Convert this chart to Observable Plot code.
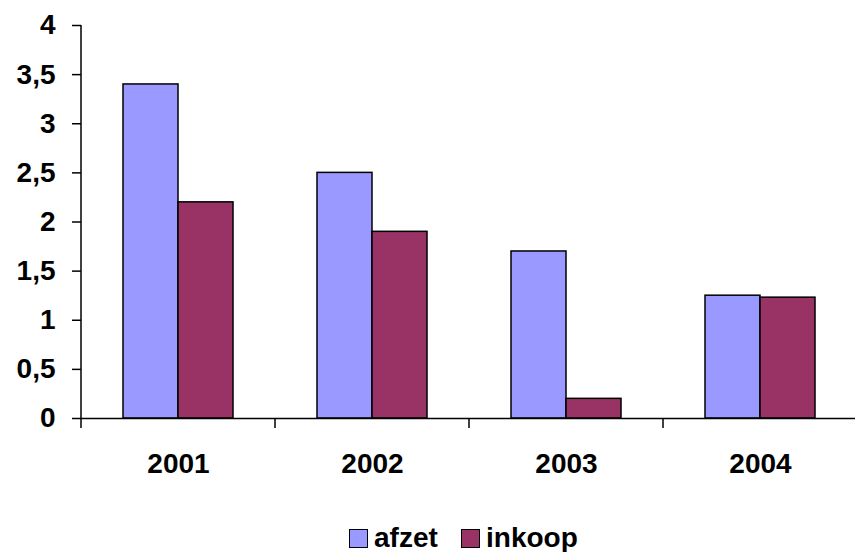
<!DOCTYPE html>
<html><head><meta charset="utf-8">
<script src="https://cdn.jsdelivr.net/npm/d3@7"></script>
<script src="https://cdn.jsdelivr.net/npm/@observablehq/plot@0.6"></script>
<style>
body{margin:0;background:#fff;font-family:"Liberation Sans",Arial,sans-serif;overflow:hidden;}
#legend{position:relative;height:42px;width:855px;}
.item{position:absolute;top:18px;display:flex;align-items:center;font-size:28px;font-weight:bold;color:#000;line-height:20px;}
.sw{width:17px;height:17px;border:1.5px solid #000;margin-right:6px;box-sizing:content-box;}
</style></head><body>
<div id="chart"></div>
<div id="legend"></div>
<script>
const years = ["2001", "2002", "2003", "2004"];
const series = ["afzet", "inkoop"];
const afzet = [3.4, 2.5, 1.7, 1.25];
const inkoop = [2.2, 1.9, 0.2, 1.23];
const colors = ["#9999FF", "#993366"];
const yTicks = [0, 0.5, 1, 1.5, 2, 2.5, 3, 3.5, 4];

const data = years.flatMap((y, i) => [
  {year: y, series: "afzet", value: afzet[i]},
  {year: y, series: "inkoop", value: inkoop[i]}
]);

const font = "'Liberation Sans', Arial, sans-serif";
const plot = Plot.plot({
  width: 855, height: 510,
  marginLeft: 79, marginRight: 0, marginTop: 25, marginBottom: 92,
  style: {fontFamily: font, fontWeight: "bold", color: "#000", background: "#fff"},
  fx: {domain: years, padding: 0, label: null, axis: null, range: [79, 858]},
  x: {domain: series, paddingInner: 0, paddingOuter: 0.75, axis: null},
  y: {domain: [0, 4], axis: null},
  color: {domain: series, range: colors},
  marks: [
    Plot.barY(data, {fx: "year", x: "series", y: "value", fill: "series", stroke: "#000", strokeWidth: 1.5}),
    Plot.ruleY([0], {stroke: "#000", strokeWidth: 1.5}),
    Plot.axisY(yTicks, {tickSize: 9, tickPadding: 17, tickFormat: d => String(d).replace(".", ","), label: null, fontSize: 28, strokeWidth: 1.5}),
    Plot.axisFx({anchor: "bottom", tickSize: 0, tickPadding: 35, label: null, fontSize: 28})
  ]
});
document.getElementById("chart").appendChild(plot);

// axis line and category separators, positioned from Plot's scales
const fx = plot.scale("fx"), ys = plot.scale("y");
const svg = d3.select(plot);
const y0 = ys.apply(0), yTop = ys.apply(4);
const x0 = fx.apply(years[0]);
svg.append("line").attr("x1", x0).attr("x2", x0).attr("y1", yTop).attr("y2", y0 + 10)
  .attr("stroke", "#000").attr("stroke-width", 1.5);
years.slice(1).forEach(y => {
  const x = fx.apply(y);
  svg.append("line").attr("x1", x).attr("x2", x).attr("y1", y0).attr("y2", y0 + 10)
    .attr("stroke", "#000").attr("stroke-width", 1.5);
});

// legend
const legend = document.getElementById("legend");
const lefts = [349, 461];
series.forEach((s, i) => {
  const it = document.createElement("div");
  it.className = "item";
  it.style.left = lefts[i] + "px";
  const sw = document.createElement("div");
  sw.className = "sw";
  sw.style.background = colors[i];
  it.appendChild(sw);
  it.appendChild(document.createTextNode(s));
  legend.appendChild(it);
});
</script>
</body></html>
